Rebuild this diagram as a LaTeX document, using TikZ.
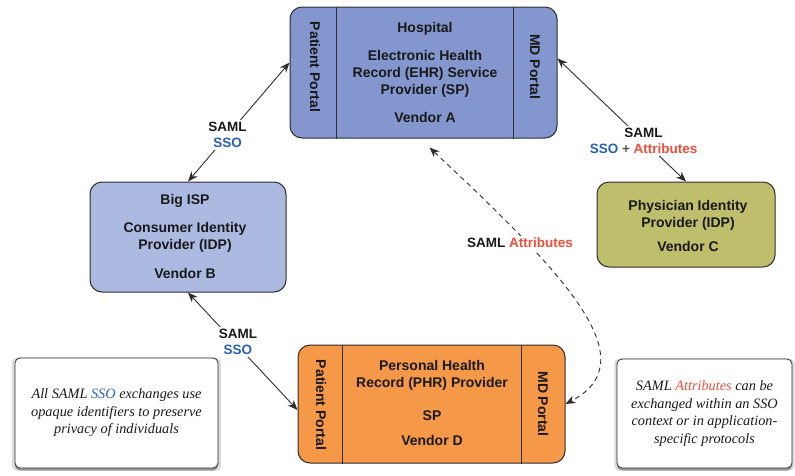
\documentclass[tikz,border=0pt]{standalone}
\usepackage{fontspec}
\setmainfont{Liberation Sans}
\newfontfamily\notefont{Liberation Serif}
\usetikzlibrary{arrows.meta,shadows}

\definecolor{hospfill}{RGB}{132,150,206}
\definecolor{ispfill}{RGB}{172,186,226}
\definecolor{physfill}{RGB}{190,190,108}
\definecolor{phrfill}{RGB}{245,153,72}
\definecolor{edge}{RGB}{45,45,45}
\definecolor{textdark}{RGB}{25,25,25}
\definecolor{ssoblue}{RGB}{40,95,185}
\definecolor{attrred}{RGB}{240,78,58}
\definecolor{plusgray}{RGB}{90,90,90}

\begin{document}
\begin{tikzpicture}[x=1pt,y=-1pt,
  entity/.style={draw=edge,line width=1pt,rounded corners=12pt,inner sep=0pt},
  divider/.style={draw=edge,line width=1pt},
  boxtext/.style={align=center,text=textdark,inner sep=0pt,
    font=\fontsize{14}{17}\selectfont\bfseries},
  portal/.style={rotate=-90,text=textdark,inner sep=0pt,
    font=\fontsize{14}{17}\selectfont\bfseries},
  lbl/.style={fill=white,inner sep=2pt,align=center,text=textdark,
    font=\fontsize{13.5}{16.5}\selectfont\bfseries},
  conn/.style={draw=edge,line width=0.9pt,
    {Stealth[length=10pt,width=8pt]}-{Stealth[length=10pt,width=8pt]}},
  dashconn/.style={conn,dash pattern=on 5pt off 4pt},
  note/.style={draw=edge,line width=0.8pt,fill=white,rounded corners=5pt,
    align=center,text=textdark,inner sep=0pt,
    font=\notefont\itshape\fontsize{14.3}{17.5}\selectfont,
    drop shadow={shadow xshift=0pt,shadow yshift=-2.5pt,opacity=.32,fill=black},
    drop shadow={shadow xshift=0pt,shadow yshift=-1pt,shadow scale=1.03,opacity=.14,fill=black}}
]
\path[use as bounding box] (0,0) rectangle (795,475);

% Hospital EHR service provider
\node[entity,fill=hospfill,minimum width=267pt,minimum height=131pt] (ehr) at (423.5,72.5) {};
\draw[divider] ([xshift=47pt]ehr.north west) -- ([xshift=47pt]ehr.south west);
\draw[divider] ([xshift=-44pt]ehr.north east) -- ([xshift=-44pt]ehr.south east);
\node[boxtext] (ehrtxt) at (425,72.5)
  {Hospital\\[11pt]Electronic Health\\Record (EHR) Service\\Provider (SP)\\[11pt]Vendor A};
\node[portal] (ehrpp) at (315,67) {Patient Portal};
\node[portal] (ehrmd) at (535,67) {MD Portal};

% Consumer identity provider
\node[entity,fill=ispfill,minimum width=196pt,minimum height=110pt] (isp) at (188,237) {};
\node[boxtext] (isptxt) at (185,236.5)
  {Big ISP\\[11.5pt]Consumer Identity\\Provider (IDP)\\[12pt]Vendor B};

% Physician identity provider
\node[entity,fill=physfill,minimum width=178pt,minimum height=85pt] (phys) at (686,224.5) {};
\node[boxtext] (phystxt) at (688,226)
  {Physician Identity\\Provider (IDP)\\[6.5pt]Vendor C};

% Personal health record provider
\node[entity,fill=phrfill,minimum width=267pt,minimum height=118pt] (phr) at (431.5,404) {};
\draw[divider] ([xshift=45pt]phr.north west) -- ([xshift=45pt]phr.south west);
\draw[divider] ([xshift=-44pt]phr.north east) -- ([xshift=-44pt]phr.south east);
\node[boxtext] (phrtxt) at (432,403)
  {Personal Health\\Record (PHR) Provider\\[16pt]SP\\[8pt]Vendor D};
\node[portal] (phrpp) at (321,405) {Patient Portal};
\node[portal] (phrmd) at (543,404) {MD Portal};

% SAML exchanges
\draw[conn] ([yshift=10pt]ehr.west) --
  node[lbl,pos=0.61] (lblA) {SAML\\\textcolor{ssoblue}{SSO}} (isp.north);
\draw[conn] ([yshift=14pt]ehr.east) --
  node[lbl,pos=0.67] (lblB) {SAML\\\textcolor{ssoblue}{SSO} \textcolor{plusgray}{+} \textcolor{attrred}{Attributes}} (phys.north);
\draw[conn] (isp.south) --
  node[lbl,pos=0.42,xshift=4pt] (lblC) {SAML\\\textcolor{ssoblue}{SSO}} ([yshift=-6pt]phr.west);
\draw[dashconn] ([shift={(6pt,-9pt)}]ehr.south)
  .. controls (560,270) and (650,360) .. (phr.east);
\node[lbl] (lblD) at (520,243) {SAML \textcolor{attrred}{Attributes}};

% Explanatory notes
\node[note,minimum width=203pt,minimum height=110pt] (noteL) at (116.5,413)
  {All SAML \textcolor{ssoblue}{SSO} exchanges use\\opaque identifiers to preserve\\privacy of individuals};
\node[note,minimum width=175pt,minimum height=109pt] (noteR) at (704.5,413.5)
  {SAML \textcolor{attrred}{Attributes} can be\\exchanged within an SSO\\context or in application-\\specific protocols};
\end{tikzpicture}
\end{document}
